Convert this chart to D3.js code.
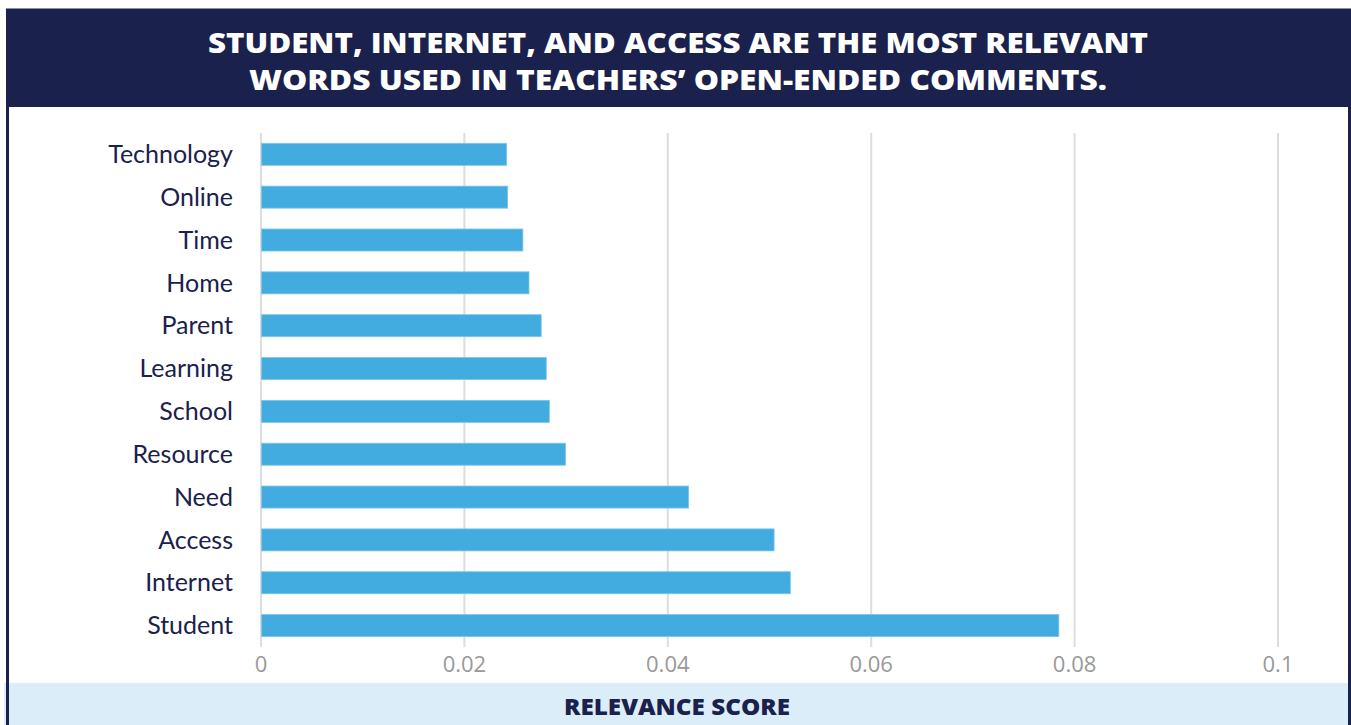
<!DOCTYPE html>
<html>
<head>
<meta charset="utf-8">
<script src="https://cdn.jsdelivr.net/npm/d3@7"></script>
<style>
  html, body { margin: 0; padding: 0; background: #fff; }
  svg { display: block; }
</style>
</head>
<body>
<div id="chart"></div>
<script>
var words = ["Technology", "Online", "Time", "Home", "Parent", "Learning", "School", "Resource", "Need", "Access", "Internet", "Student"];
var scores = [0.0242, 0.0243, 0.0258, 0.0264, 0.0276, 0.0281, 0.0284, 0.0300, 0.0421, 0.0505, 0.0521, 0.0785];
var ticks = [0, 0.02, 0.04, 0.06, 0.08, 0.1];
var titleLines = ["STUDENT, INTERNET, AND ACCESS ARE THE MOST RELEVANT", "WORDS USED IN TEACHERS\u2019 OPEN-ENDED COMMENTS."];
var axisTitle = "RELEVANCE SCORE";

var data = words.map(function(w, i) { return {word: w, score: scores[i]}; });

var width = 1351, height = 725;
var navy = "#1a214c", barColor = "#42ace0", band = "#dbedf8";

var svg = d3.select("#chart").append("svg").attr("width", width).attr("height", height);

// frame + header
svg.append("rect").attr("x", 7.5).attr("y", 10).attr("width", 1342).attr("height", 720)
    .attr("fill", "#fff").attr("stroke", navy).attr("stroke-width", 3);
svg.append("rect").attr("x", 6).attr("y", 10).attr("width", 1345).attr("height", 97).attr("fill", navy);

svg.selectAll(".title").data(titleLines).enter().append("text")
    .attr("class", "title")
    .attr("x", 678).attr("y", function(d, i) { return 53 + i * 37; })
    .attr("text-anchor", "middle")
    .attr("fill", "#fff")
    .attr("font-family", "'Open Sans', sans-serif")
    .attr("font-weight", 800)
    .attr("font-size", 29)
    .attr("textLength", function(d, i) { return i ? 858 : 940; })
    .attr("lengthAdjust", "spacingAndGlyphs")
    .text(function(d) { return d; });

// scales
var x = d3.scaleLinear().domain([0, 0.1]).range([260.5, 1277.5]);
var y = d3.scaleBand().domain(words).range([132.9, 647]).paddingInner(0.486).paddingOuter(0.243);

// grid
svg.append("g").attr("class", "grid")
    .attr("transform", "translate(0,647)")
    .call(d3.axisBottom(x).tickValues(ticks).tickSize(-514).tickFormat(""))
    .call(function(g) {
        g.select(".domain").remove();
        g.selectAll("line").attr("stroke", "#dddddd").attr("stroke-width", 2);
    });

// bars
svg.selectAll(".bar").data(data).enter().append("rect")
    .attr("class", "bar")
    .attr("x", x(0) + 1)
    .attr("y", function(d) { return y(d.word); })
    .attr("width", function(d) { return x(d.score) - x(0) - 1; })
    .attr("height", y.bandwidth())
    .attr("fill", barColor)
    .attr("stroke", "#7cc6ec").attr("stroke-width", 0.8);

// x tick labels
svg.append("g")
    .attr("transform", "translate(0,647)")
    .call(d3.axisBottom(x).tickValues(ticks).tickSize(0).tickPadding(9).tickFormat(d3.format("~g")))
    .call(function(g) {
        g.select(".domain").remove();
        g.selectAll("text").attr("fill", "#999").attr("font-size", 22)
            .attr("font-family", "'Open Sans', sans-serif");
    });

// category labels
svg.append("g")
    .attr("transform", "translate(233,0)")
    .call(d3.axisLeft(y).tickSize(0).tickPadding(0))
    .call(function(g) {
        g.select(".domain").remove();
        g.selectAll("text").attr("fill", navy).attr("font-size", 25)
            .attr("font-family", "Lato, sans-serif")
            .attr("dy", "0.35em");
    });

// axis title band
svg.append("rect").attr("x", 4).attr("y", 683).attr("width", 1344).attr("height", 42).attr("fill", band);
svg.append("line").attr("x1", 7.5).attr("x2", 7.5).attr("y1", 600).attr("y2", 725).attr("stroke", navy).attr("stroke-width", 3);
svg.append("line").attr("x1", 1349.5).attr("x2", 1349.5).attr("y1", 600).attr("y2", 725).attr("stroke", navy).attr("stroke-width", 3);
svg.append("text")
    .attr("x", 677).attr("y", 715)
    .attr("text-anchor", "middle")
    .attr("fill", navy)
    .attr("font-family", "'Open Sans', sans-serif")
    .attr("font-weight", 800)
    .attr("font-size", 23)
    .attr("textLength", 226)
    .attr("lengthAdjust", "spacingAndGlyphs")
    .text(axisTitle);
</script>
</body>
</html>
